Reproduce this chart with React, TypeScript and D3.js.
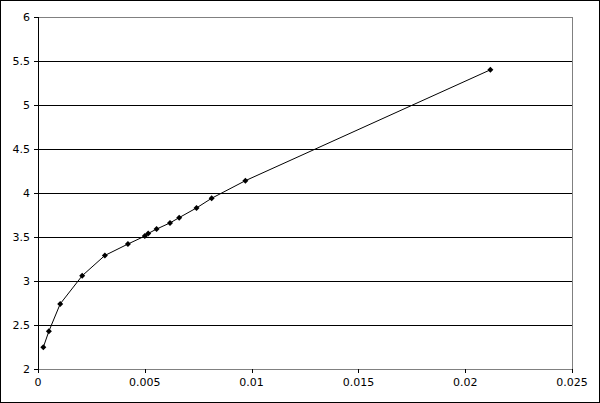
import React from "react";
import * as d3 from "d3";

const xValues = [0.000248, 0.00051, 0.00104, 0.00207, 0.00313, 0.00421, 0.005, 0.00516, 0.00555, 0.00618, 0.00661, 0.00742, 0.00813, 0.00971, 0.02118];
const yValues = [2.247, 2.43, 2.74, 3.06, 3.29, 3.42, 3.51, 3.54, 3.59, 3.66, 3.72, 3.83, 3.94, 4.14, 5.4];
const xTicks = [0, 0.005, 0.01, 0.015, 0.02, 0.025];
const yTicks = [2, 2.5, 3, 3.5, 4, 4.5, 5, 5.5, 6];

export default function App() {
  const W = 600, H = 403;
  const left = 38, right = 572, top = 17, bottom = 369;
  const x = d3.scaleLinear().domain([0, 0.025]).range([left, right]);
  const y = d3.scaleLinear().domain([2, 6]).range([bottom, top]);
  const pts = xValues.map((v, i) => [x(v), y(yValues[i])] as [number, number]);
  const line = d3.line()(pts) || "";
  const font = "Verdana, 'DejaVu Sans', sans-serif";
  return (
    <svg width={W} height={H} style={{ position: "absolute", left: 0, top: 0 }} fontFamily={font}>
      <rect x={0.5} y={0.5} width={W - 1} height={H - 1} fill="#fff" stroke="#000" />
      {yTicks.map((t) => (
        <g key={"y" + t}>
          <line x1={left - 4} x2={right} y1={Math.round(y(t)) + 0.5} y2={Math.round(y(t)) + 0.5}
            stroke={t === 6 ? "#808080" : t === 2 ? "#808080" : "#000"} />
          <line x1={left - 4} x2={left} y1={Math.round(y(t)) + 0.5} y2={Math.round(y(t)) + 0.5} stroke="#000" />
          <text x={left - 8} y={y(t) + 4} textAnchor="end" fontSize={11} fill="#000">{t}</text>
        </g>
      ))}
      <line x1={right + 0.5} x2={right + 0.5} y1={top} y2={bottom} stroke="#808080" />
      <line x1={left + 0.5} x2={left + 0.5} y1={top} y2={bottom + 4} stroke="#000" />
      {xTicks.map((t) => (
        <g key={"x" + t}>
          <line x1={Math.round(x(t)) + 0.5} x2={Math.round(x(t)) + 0.5} y1={bottom} y2={bottom + 4} stroke="#000" />
          <text x={x(t)} y={bottom + 17} textAnchor="middle" fontSize={11} fill="#000">{t}</text>
        </g>
      ))}
      <path d={line} fill="none" stroke="#000" strokeWidth={1} />
      {pts.map(([px, py], i) => (
        <path key={i} d={`M${px},${py - 3}L${px + 3},${py}L${px},${py + 3}L${px - 3},${py}Z`} fill="#000" />
      ))}
    </svg>
  );
}
